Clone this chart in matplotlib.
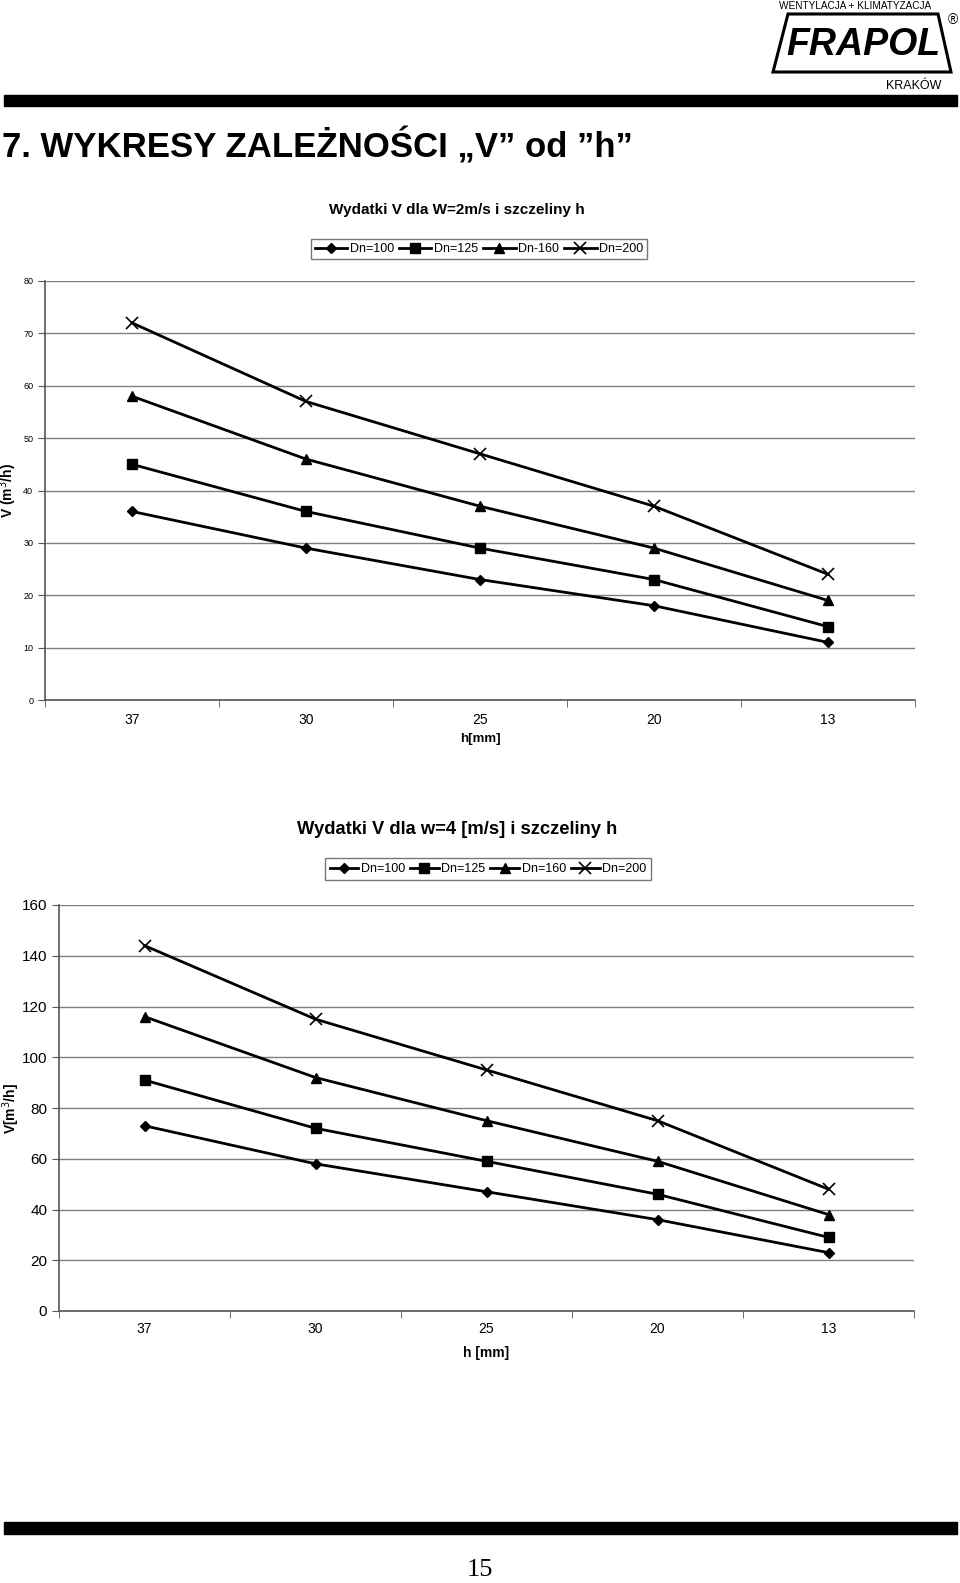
import numpy as np
import matplotlib
matplotlib.use("Agg")
import matplotlib.pyplot as plt
from matplotlib.patches import Polygon, Rectangle

plt.rcParams['font.family'] = ['Liberation Sans', 'DejaVu Sans']

# data
h_labels = ["37", "30", "25", "20", "13"]

w2_dn100 = [36, 29, 23, 18, 11]
w2_dn125 = [45, 36, 29, 23, 14]
w2_dn160 = [58, 46, 37, 29, 19]
w2_dn200 = [72, 57, 47, 37, 24]
w2_names = ["Dn=100", "Dn=125", "Dn-160", "Dn=200"]

w4_dn100 = [73, 58, 47, 36, 23]
w4_dn125 = [91, 72, 59, 46, 29]
w4_dn160 = [116, 92, 75, 59, 38]
w4_dn200 = [144, 115, 95, 75, 48]
w4_names = ["Dn=100", "Dn=125", "Dn=160", "Dn=200"]

markers = [("D", 5), ("s", 7), ("^", 7), ("x", 8)]

W, H = 960, 1583
fig = plt.figure(figsize=(W / 100, H / 100), dpi=100)


def fx(px):
    return px / W


def fy(py):
    return 1 - py / H


def draw_chart(ax, series, ymax, ystep, ytick_size, xpad):
    x = np.arange(len(h_labels))
    handles = []
    for s, (m, ms) in zip(series, markers):
        l, = ax.plot(x, s, color="black", lw=2, marker=m, markersize=ms,
                     markeredgewidth=1.2 if m == "x" else 1, zorder=3)
        handles.append(l)
    ax.set_xlim(-0.5, len(h_labels) - 0.5)
    ax.set_ylim(0, ymax)
    ax.set_yticks(np.arange(0, ymax + 1, ystep))
    ax.yaxis.grid(True, color="#7f7f7f", lw=1)
    ax.set_axisbelow(True)
    for sp in ["top", "right"]:
        ax.spines[sp].set_visible(False)
    for sp in ["left", "bottom"]:
        ax.spines[sp].set_color("#555555")
        ax.spines[sp].set_linewidth(1.2)
    ax.set_xticks(x)
    ax.set_xticklabels(h_labels, fontsize=10)
    ax.tick_params(axis="x", length=0, pad=xpad)
    ax.set_xticks(np.arange(-0.5, len(h_labels)), minor=True)
    ax.tick_params(axis="x", which="minor", length=5, color="#555555")
    ax.tick_params(axis="y", length=5, color="#555555", labelsize=ytick_size)
    return handles


# header
fig.text(fx(855), fy(6), "WENTYLACJA + KLIMATYZACJA", fontsize=7.2,
         ha="center", va="center")
fig.add_artist(Polygon([[fx(788), fy(14)], [fx(938), fy(14)],
                        [fx(951), fy(72)], [fx(773), fy(72)]],
                       closed=True, fill=False, ec="black", lw=2.2,
                       transform=fig.transFigure))
fig.text(fx(863), fy(45), "FRAPOL", fontsize=27, fontweight="bold",
         ha="center", va="center", style="italic")
fig.text(fx(953), fy(20), "®", fontsize=10, ha="center", va="center")
fig.text(fx(914), fy(86), "KRAKÓW", fontsize=9, ha="center", va="center")
fig.add_artist(Rectangle((fx(4), fy(106)), fx(953), 11 / H, color="black",
                         transform=fig.transFigure))
fig.text(fx(2), fy(146), "7. WYKRESY ZALEŻNOŚCI \u201eV\u201d od \u201dh\u201d",
         fontsize=25, fontweight="bold", ha="left", va="center")

# chart 1
ax1 = fig.add_axes([fx(45), fy(700), fx(915 - 45), (700 - 281) / H])
h1 = draw_chart(ax1, [w2_dn100, w2_dn125, w2_dn160, w2_dn200], 80, 10, 6.5, 9)
fig.text(fx(457), fy(210), "Wydatki V dla W=2m/s i szczeliny h", fontsize=11,
         fontweight="bold", ha="center", va="center")
ax1.set_xlabel("h[mm]", fontsize=9.5, fontweight="bold", labelpad=5)
ax1.set_ylabel("V (m$^3$/h)", fontsize=10, fontweight="bold")
ax1.yaxis.set_label_coords(-0.030, 0.5)
leg1 = fig.legend(h1, w2_names, loc="center", bbox_to_anchor=(fx(479), fy(249)),
                  ncol=4, fontsize=9, frameon=True, fancybox=False,
                  edgecolor="#555555", handlelength=2.6, handletextpad=0.2,
                  columnspacing=0.4, borderpad=0.3)
leg1.get_frame().set_linewidth(1)

# chart 2
ax2 = fig.add_axes([fx(59), fy(1311), fx(914 - 59), (1311 - 905) / H])
h2 = draw_chart(ax2, [w4_dn100, w4_dn125, w4_dn160, w4_dn200], 160, 20, 11, 8)
fig.text(fx(457), fy(829), "Wydatki V dla w=4 [m/s] i szczeliny h", fontsize=13.2,
         fontweight="bold", ha="center", va="center")
ax2.set_xlabel("h [mm]", fontsize=10, fontweight="bold", labelpad=7)
ax2.set_ylabel("V[m$^3$/h]", fontsize=10, fontweight="bold")
ax2.yaxis.set_label_coords(-0.043, 0.5)
leg2 = fig.legend(h2, w4_names, loc="center", bbox_to_anchor=(fx(488), fy(869)),
                  ncol=4, fontsize=9, frameon=True, fancybox=False,
                  edgecolor="#555555", handlelength=2.3, handletextpad=0.2,
                  columnspacing=0.4, borderpad=0.4)
leg2.get_frame().set_linewidth(1)

# footer
fig.add_artist(Rectangle((fx(4), fy(1534)), fx(953), 12 / H, color="black",
                         transform=fig.transFigure))
fig.text(fx(480), fy(1570), "15", fontsize=19, family=['Liberation Serif'],
         ha="center", va="center")

fig.savefig("out.png", dpi=100)
